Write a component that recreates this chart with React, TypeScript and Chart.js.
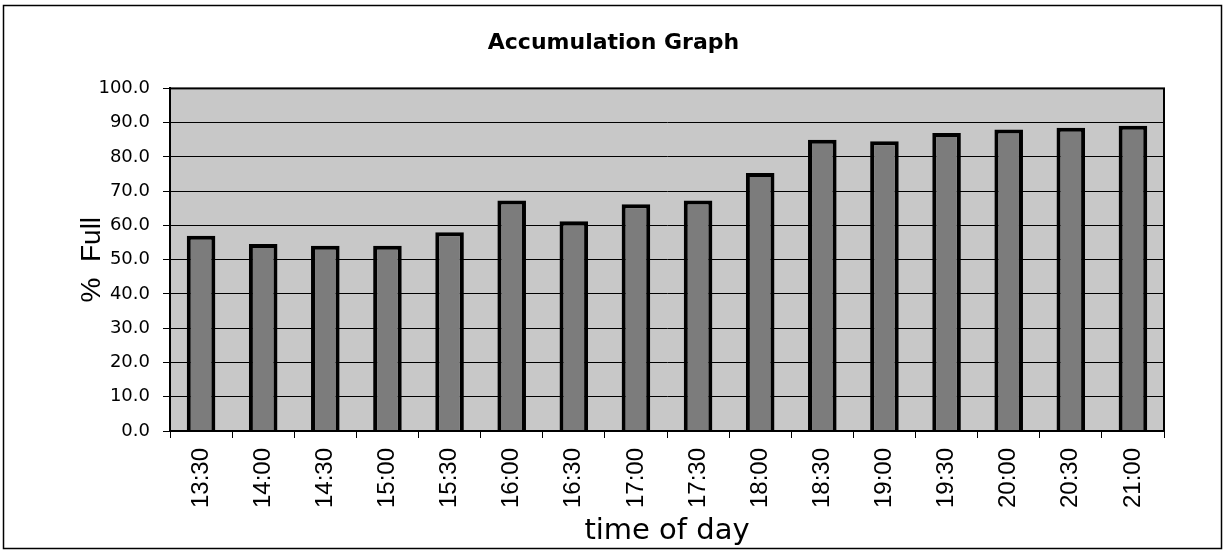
import React, { useEffect, useRef } from "react";
import { Chart, registerables } from "chart.js";

Chart.register(...registerables);

const chartTitle = "Accumulation Graph";
const xAxisTitle = "time of day";
const yAxisTitle = "%  Full";
const categories = [
  "13:30", "14:00", "14:30", "15:00", "15:30", "16:00", "16:30", "17:00",
  "17:30", "18:00", "18:30", "19:00", "19:30", "20:00", "20:30", "21:00",
];
const percentFull = [
  57.0, 54.6, 54.1, 54.1, 58.0, 67.3, 61.2, 66.2,
  67.3, 75.3, 85.0, 84.6, 87.0, 88.0, 88.5, 89.1,
];
const yMin = 0;
const yMax = 100;
const yStep = 10;

const W = 1227;
const H = 557;

const framePlugin = {
  id: "frame",
  beforeDraw(chart: any) {
    const { ctx, chartArea } = chart;
    ctx.save();
    ctx.fillStyle = "#ffffff";
    ctx.fillRect(0, 0, W, H);
    ctx.strokeStyle = "#000000";
    ctx.lineWidth = 1.5;
    ctx.strokeRect(3.5, 5.5, 1218, 543);
    ctx.fillStyle = "#c8c8c8";
    ctx.fillRect(chartArea.left, chartArea.top, chartArea.right - chartArea.left, chartArea.bottom - chartArea.top);
    ctx.restore();
  },
  afterDraw(chart: any) {
    const { ctx, chartArea } = chart;
    ctx.save();
    ctx.strokeStyle = "#000000";
    ctx.lineWidth = 2;
    ctx.strokeRect(chartArea.left, chartArea.top, chartArea.right - chartArea.left, chartArea.bottom - chartArea.top);
    ctx.restore();
  },
};

export default function App() {
  const canvasRef = useRef<HTMLCanvasElement | null>(null);

  useEffect(() => {
    if (!canvasRef.current) return;
    const chart = new Chart(canvasRef.current, {
      type: "bar",
      data: {
        labels: categories,
        datasets: [
          {
            label: "% Full",
            data: percentFull,
            backgroundColor: "#7c7c7c",
            borderColor: "#000000",
            borderWidth: 4,
            categoryPercentage: 1,
            barPercentage: 0.46,
          },
        ],
      },
      plugins: [framePlugin],
      options: {
        animation: false,
        responsive: false,
        devicePixelRatio: 1,
        layout: { padding: { left: 0, right: 0, top: 0, bottom: 0 } },
        plugins: {
          legend: { display: false },
          tooltip: { enabled: false },
          title: {
            display: true,
            text: chartTitle,
            color: "#000000",
            font: { family: "'DejaVu Sans', sans-serif", size: 22, weight: "bold" },
            padding: { top: 30, bottom: 32 },
          },
        },
        scales: {
          x: {
            afterFit: (scale: any) => {
              scale.height = 126;
            },
            grid: {
              drawOnChartArea: false,
              drawTicks: true,
              tickLength: 7,
              color: "#000000",
              lineWidth: 1,
              offset: true,
            },
            border: { display: true, color: "#000000", width: 2 },
            ticks: {
              color: "#000000",
              font: { family: "'Liberation Sans', Arial, sans-serif", size: 24 },
              minRotation: 90,
              maxRotation: 90,
              padding: 10,
              autoSkip: false,
            },
            title: {
              display: true,
              text: xAxisTitle,
              color: "#000000",
              font: { family: "'DejaVu Sans', sans-serif", size: 29 },
              padding: { top: 0, bottom: 8 },
            },
          },
          y: {
            min: yMin,
            max: yMax,
            afterFit: (scale: any) => {
              scale.width = 170;
            },
            grid: {
              drawOnChartArea: true,
              drawTicks: true,
              tickLength: 7,
              color: "#000000",
              lineWidth: 1,
            },
            border: { display: true, color: "#000000", width: 2 },
            ticks: {
              stepSize: yStep,
              color: "#000000",
              font: { family: "'DejaVu Sans', sans-serif", size: 18 },
              padding: 13,
              callback: (v: any) => Number(v).toFixed(1),
            },
            title: {
              display: true,
              text: yAxisTitle,
              color: "#000000",
              font: { family: "'Liberation Sans', Arial, sans-serif", size: 28 },
              padding: { top: 75, bottom: 0 },
            },
          },
          yRight: {
            position: "right",
            display: true,
            afterFit: (scale: any) => {
              scale.width = 63;
            },
            grid: { display: false, drawTicks: false },
            border: { display: false },
            ticks: { display: false },
          },
        },
      },
    });
    return () => chart.destroy();
  }, []);

  return (
    <div style={{ position: "absolute", left: 0, top: 0, width: W, height: H, background: "#fff" }}>
      <canvas ref={canvasRef} width={W} height={H} style={{ display: "block", width: W, height: H }} />
    </div>
  );
}
